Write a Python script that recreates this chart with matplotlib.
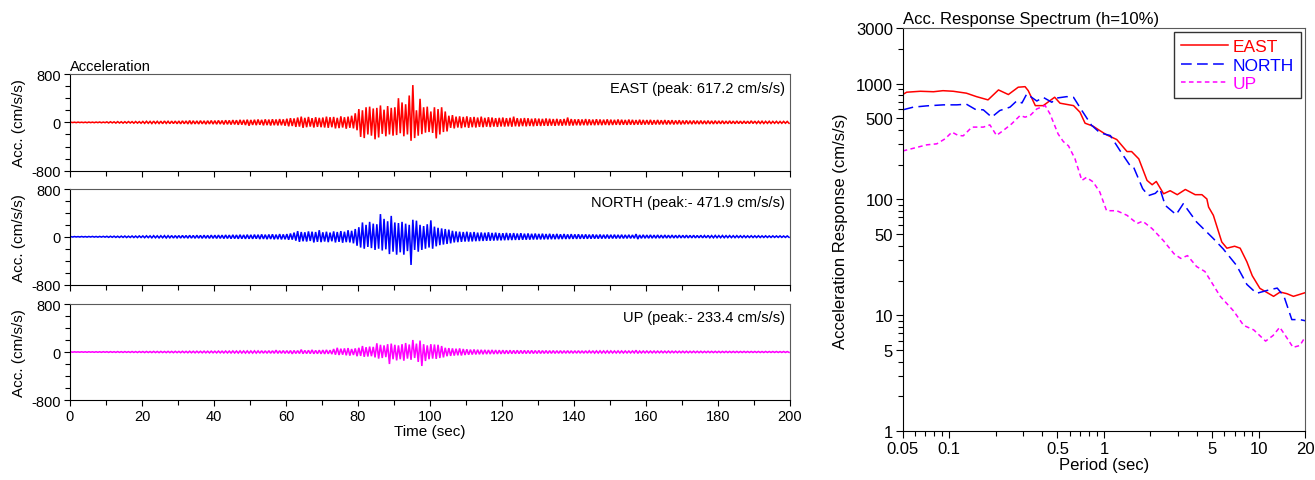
import matplotlib
matplotlib.use("Agg")
import matplotlib.pyplot as plt
from matplotlib.ticker import FixedLocator, MultipleLocator, FixedFormatter, NullFormatter

plt.rcParams["font.family"] = ["Liberation Sans", "DejaVu Sans"]
plt.rcParams["axes.unicode_minus"] = False

# ==============================
# Data: acceleration traces, peak (+) and trough (-) per 1-second window, cm/s/s
# ==============================

EAST_POS = [
    3, 3, 4, 3, 4, 5, 4, 5, 6, 5, 8, 10, 9, 12, 10, 11, 13, 12, 14, 12,
    15, 18, 16, 20, 17, 19, 22, 18, 20, 21, 22, 25, 24, 30, 26, 24, 28, 25, 27, 30,
    28, 32, 30, 35, 33, 38, 36, 42, 40, 45, 40, 44, 48, 42, 50, 46, 52, 48, 55, 50,
    60, 70, 65, 80, 95, 75, 90, 70, 85, 75, 80, 95, 85, 90, 75, 100, 85, 95, 110, 150,
    220, 200, 250, 260, 230, 240, 280, 210, 270, 240, 250, 400, 330, 300, 445, 617, 200, 390, 250, 260,
    180, 250, 220, 250, 180, 110, 120, 95, 100, 90, 100, 85, 90, 80, 95, 75, 85, 80, 70, 75,
    80, 70, 75, 95, 70, 65, 72, 68, 60, 66, 62, 58, 65, 60, 55, 58, 52, 56, 80, 55,
    50, 52, 48, 55, 50, 46, 52, 48, 45, 50, 45, 42, 48, 44, 40, 46, 42, 38, 44, 40,
    38, 42, 36, 40, 35, 38, 34, 36, 32, 35, 30, 32, 28, 30, 27, 29, 26, 28, 25, 27,
    24, 26, 22, 25, 21, 23, 20, 22, 19, 25, 20, 18, 19, 17, 18, 16, 17, 15, 16, 15,
]
EAST_NEG = [
    3, 4, 3, 4, 5, 4, 5, 4, 6, 5, 9, 8, 11, 10, 12, 11, 10, 13, 12, 14,
    16, 15, 19, 17, 18, 21, 17, 20, 19, 22, 24, 22, 26, 28, 25, 27, 24, 30, 26, 28,
    30, 28, 34, 32, 36, 34, 40, 38, 44, 55, 42, 46, 40, 50, 45, 52, 47, 50, 48, 55,
    65, 60, 75, 70, 90, 80, 70, 85, 75, 80, 85, 90, 80, 100, 95, 85, 105, 90, 100, 130,
    240, 260, 200, 220, 280, 250, 190, 230, 200, 220, 210, 180, 230, 200, 305, 260, 220, 195, 170, 160,
    175, 265, 200, 160, 150, 90, 100, 85, 95, 80, 90, 80, 85, 75, 80, 72, 78, 70, 75, 68,
    70, 66, 72, 65, 68, 62, 66, 60, 64, 58, 60, 56, 58, 54, 57, 52, 55, 50, 54, 52,
    48, 50, 46, 49, 45, 47, 44, 46, 42, 45, 43, 40, 42, 39, 41, 38, 40, 37, 39, 36,
    36, 38, 34, 35, 33, 35, 32, 34, 31, 33, 30, 28, 29, 27, 28, 26, 27, 25, 26, 24,
    23, 24, 22, 21, 22, 20, 21, 19, 20, 18, 18, 17, 18, 16, 17, 15, 16, 15, 14, 15,
]

NORTH_POS = [
    3, 4, 3, 5, 4, 5, 6, 5, 6, 7, 8, 9, 10, 9, 11, 12, 10, 13, 12, 14,
    14, 16, 15, 18, 16, 17, 19, 18, 20, 19, 20, 22, 21, 24, 22, 25, 23, 26, 24, 27,
    26, 28, 27, 30, 28, 32, 30, 34, 31, 35, 32, 36, 34, 40, 35, 38, 42, 36, 45, 40,
    45, 55, 70, 95, 80, 75, 90, 85, 80, 110, 75, 85, 70, 90, 80, 95, 85, 110, 100, 130,
    160, 240, 200, 250, 220, 210, 380, 300, 260, 350, 240, 230, 250, 220, 200, 285, 270, 200, 180, 210,
    275, 170, 150, 140, 130, 120, 100, 90, 85, 80, 85, 75, 80, 70, 72, 68, 75, 65, 70, 62,
    60, 65, 58, 62, 55, 60, 52, 56, 50, 54, 48, 52, 46, 50, 44, 48, 42, 46, 40, 44,
    40, 42, 38, 40, 36, 39, 35, 37, 34, 36, 33, 35, 32, 34, 31, 33, 30, 45, 30, 32,
    29, 31, 28, 30, 27, 29, 26, 28, 25, 27, 24, 26, 23, 25, 22, 24, 21, 23, 20, 22,
    20, 21, 19, 20, 18, 19, 17, 18, 16, 17, 16, 17, 15, 16, 14, 15, 14, 15, 13, 14,
]
NORTH_NEG = [
    4, 3, 4, 4, 5, 4, 5, 6, 5, 6, 9, 8, 10, 11, 10, 12, 11, 12, 13, 12,
    15, 14, 17, 16, 18, 16, 19, 17, 20, 18, 21, 20, 23, 22, 24, 23, 25, 24, 26, 25,
    27, 26, 29, 28, 31, 30, 33, 32, 34, 33, 34, 32, 38, 36, 40, 37, 42, 40, 44, 42,
    50, 48, 65, 85, 75, 80, 70, 95, 85, 90, 80, 90, 75, 95, 85, 100, 90, 95, 110, 150,
    180, 200, 170, 190, 220, 200, 230, 210, 290, 250, 300, 260, 300, 240, 472, 220, 250, 220, 200, 180,
    200, 160, 140, 130, 120, 110, 95, 90, 85, 80, 80, 78, 74, 72, 70, 68, 66, 64, 62, 60,
    58, 56, 55, 53, 52, 50, 49, 48, 46, 45, 44, 43, 42, 41, 40, 39, 38, 37, 36, 35,
    35, 34, 33, 33, 32, 31, 31, 30, 29, 29, 28, 28, 27, 27, 26, 26, 25, 38, 25, 24,
    24, 23, 23, 22, 22, 21, 21, 20, 20, 19, 19, 19, 18, 18, 17, 17, 16, 16, 16, 15,
    15, 15, 14, 14, 14, 13, 13, 13, 12, 12, 12, 12, 11, 11, 11, 10, 10, 10, 10, 9,
]

UP_POS = [
    2, 3, 2, 3, 3, 4, 3, 4, 4, 5, 5, 6, 5, 7, 6, 7, 6, 8, 7, 8,
    8, 9, 8, 10, 9, 10, 9, 11, 10, 11, 10, 12, 11, 13, 12, 13, 12, 14, 13, 14,
    13, 15, 14, 16, 15, 17, 16, 18, 17, 18, 17, 19, 18, 20, 19, 21, 20, 30, 21, 23,
    22, 24, 25, 23, 40, 26, 28, 35, 27, 30, 32, 35, 30, 50, 70, 55, 60, 65, 50, 60,
    70, 100, 80, 90, 85, 145, 120, 110, 130, 140, 120, 110, 130, 150, 125, 200, 140, 190, 130, 110,
    130, 125, 120, 100, 70, 65, 60, 55, 60, 50, 45, 40, 42, 38, 36, 35, 33, 34, 32, 30,
    30, 28, 29, 27, 28, 26, 27, 25, 26, 24, 25, 23, 24, 22, 23, 21, 22, 21, 22, 20,
    20, 21, 19, 20, 19, 20, 18, 19, 18, 19, 18, 17, 18, 17, 17, 16, 17, 28, 16, 16,
    16, 15, 16, 15, 15, 14, 15, 14, 14, 13, 13, 13, 12, 13, 12, 12, 11, 12, 11, 11,
    11, 10, 11, 10, 10, 10, 9, 10, 9, 9, 9, 9, 8, 9, 8, 8, 8, 7, 8, 7,
]
UP_NEG = [
    3, 2, 3, 3, 4, 3, 4, 4, 5, 4, 6, 5, 6, 6, 7, 6, 7, 7, 8, 7,
    9, 8, 9, 9, 10, 9, 10, 10, 11, 10, 11, 11, 12, 12, 13, 12, 13, 13, 14, 13,
    14, 14, 15, 15, 16, 16, 17, 17, 18, 18, 18, 18, 19, 19, 20, 20, 21, 22, 21, 22,
    23, 30, 24, 25, 28, 26, 27, 29, 28, 30, 32, 30, 35, 45, 50, 45, 55, 60, 50, 70,
    65, 80, 75, 70, 90, 110, 100, 85, 200, 120, 140, 120, 145, 110, 130, 100, 165, 233, 150, 120,
    110, 115, 100, 90, 70, 65, 60, 55, 58, 50, 45, 42, 40, 38, 37, 35, 34, 33, 32, 31,
    30, 29, 28, 28, 27, 26, 26, 25, 25, 24, 24, 23, 23, 22, 22, 21, 21, 20, 20, 20,
    19, 19, 19, 18, 18, 18, 17, 17, 17, 17, 16, 16, 16, 16, 15, 15, 15, 22, 15, 14,
    14, 14, 14, 13, 13, 13, 13, 12, 12, 12, 12, 12, 11, 11, 11, 11, 10, 10, 10, 10,
    10, 9, 9, 9, 9, 9, 8, 8, 8, 8, 8, 8, 8, 7, 7, 7, 7, 7, 7, 6,
]

TRACE_LABELS = [
    "EAST (peak: 617.2 cm/s/s)",
    "NORTH (peak:- 471.9 cm/s/s)",
    "UP (peak:- 233.4 cm/s/s)",
]

# ==============================
# Data: acceleration response spectra (h=10%)
# ==============================

EAST_T = [0.05, 0.053, 0.065, 0.079, 0.091, 0.106, 0.129, 0.150, 0.178, 0.208,
          0.241, 0.279, 0.309, 0.324, 0.36, 0.405, 0.48, 0.52, 0.636, 0.70,
          0.755, 0.85, 0.94, 1.04, 1.21, 1.41, 1.51, 1.68, 1.90, 2.05,
          2.18, 2.43, 2.68, 2.98, 3.36, 3.89, 4.3, 4.63, 4.75, 5.1,
          5.78, 6.24, 7.0, 7.6, 8.4, 9.1, 10.2, 12.5, 13.78, 15.23,
          16.8, 20.0]
EAST_SA = [804, 842, 858, 850, 868, 858, 826, 771, 723, 881,
           804, 930, 940, 868, 645, 645, 762, 677, 645, 566,
           455, 429, 393, 361, 329, 259, 259, 224, 146, 134,
           143, 112, 119, 110, 122, 110, 110, 101, 86, 73,
           43, 38, 39.5, 38, 29, 22, 17.1, 14.6, 15.9, 15.4,
           14.6, 15.7]

NORTH_T = [0.05, 0.0585, 0.0715, 0.0915, 0.112, 0.129, 0.147, 0.166, 0.188, 0.212,
           0.247, 0.274, 0.295, 0.317, 0.341, 0.368, 0.405, 0.46, 0.495, 0.575,
           0.636, 0.72, 0.83, 0.94, 1.0, 1.10, 1.27, 1.48, 1.55, 1.78,
           1.94, 2.15, 2.30, 2.49, 2.93, 3.26, 3.97, 5.1, 5.9, 7.2,
           8.4, 9.7, 11.9, 13.2, 14.6, 16.4, 18.5, 20.0]
NORTH_SA = [593, 626, 642, 655, 655, 664, 600, 593, 513, 585,
            626, 712, 680, 814, 760, 707, 760, 690, 750, 771,
            760, 585, 438, 377, 368, 356, 264, 195, 192, 124,
            108, 113, 124, 89, 74, 92, 64, 46, 37.5, 27,
            18.5, 15.5, 16.7, 17.2, 14.6, 9.2, 9.2, 9.0]

UP_T = [0.05, 0.0715, 0.083, 0.094, 0.104, 0.114, 0.123, 0.140, 0.166, 0.183,
        0.202, 0.223, 0.253, 0.287, 0.309, 0.333, 0.368, 0.417, 0.448, 0.505,
        0.546, 0.59, 0.65, 0.72, 0.77, 0.85, 0.94, 1.04, 1.21, 1.41,
        1.64, 1.78, 2.05, 2.43, 2.84, 3.14, 3.47, 3.97, 4.5, 5.65,
        6.9, 8.0, 9.3, 11.1, 12.4, 13.7, 14.9, 16.7, 18.5, 19.7]
UP_SA = [262, 296, 302, 334, 381, 357, 354, 421, 421, 440,
         357, 393, 449, 530, 513, 530, 604, 645, 547, 368,
         316, 290, 224, 146, 155, 142, 116, 80, 80, 73,
         62, 65, 56, 44, 34, 31, 32.8, 26.4, 23.9, 14.6,
         10.9, 8.2, 7.5, 6.0, 6.7, 7.9, 6.7, 5.3, 5.5, 6.3]

RED = "#ff0000"
BLUE = "#0000ff"
MAGENTA = "#ff00ff"
EDGE = "#5a5a5a"


def zigzag(pos, neg):
    """Turn per-second peak/trough lists into a trace that swings between them."""
    t, a = [], []
    for i, (p, n) in enumerate(zip(pos, neg)):
        t += [i + 0.25, i + 0.75]
        a += [p, -n]
    return t, a


def style_trace_axes(ax, show_xlabels):
    ax.set_xlim(0, 200)
    ax.set_ylim(-800, 800)
    ax.yaxis.set_major_locator(FixedLocator([-800, 0, 800]))
    ax.yaxis.set_minor_locator(MultipleLocator(200))
    ax.xaxis.set_major_locator(MultipleLocator(20))
    ax.xaxis.set_minor_locator(MultipleLocator(10))
    ax.tick_params(which="both", direction="out", top=False, right=False,
                   labelsize=10.5, width=0.8, pad=2)
    ax.tick_params(which="major", length=4.5)
    ax.tick_params(which="minor", length=3.5)
    if not show_xlabels:
        ax.xaxis.set_major_formatter(NullFormatter())
    for side in ("top", "right"):
        ax.spines[side].set_color(EDGE)
    ax.set_ylabel("Acc. (cm/s/s)", fontsize=11, labelpad=4)


fig = plt.figure(figsize=(13.15, 4.81), dpi=100)

trace_boxes = [
    [0.0532, 0.643, 0.5475, 0.201],
    [0.0532, 0.4064, 0.5475, 0.1985],
    [0.0532, 0.1663, 0.5475, 0.1996],
]
traces = [(EAST_POS, EAST_NEG, RED), (NORTH_POS, NORTH_NEG, BLUE), (UP_POS, UP_NEG, MAGENTA)]

for k, (box, (pos, neg, color), label) in enumerate(zip(trace_boxes, traces, TRACE_LABELS)):
    ax = fig.add_axes(box)
    t, a = zigzag(pos, neg)
    ax.plot(t, a, color=color, lw=1.15, solid_joinstyle="miter")
    style_trace_axes(ax, show_xlabels=(k == 2))
    ax.text(0.993, 0.86, label, transform=ax.transAxes, ha="right", va="center", fontsize=10.5)
    if k == 0:
        ax.text(0.0, 1.01, "Acceleration", transform=ax.transAxes, ha="left", va="bottom",
                fontsize=10.5)
    if k == 2:
        ax.set_xlabel("Time (sec)", fontsize=11, labelpad=1)

# Response spectrum
ax = fig.add_axes([0.6865, 0.1012, 0.306, 0.838])
ax.plot(EAST_T, EAST_SA, color=RED, lw=1.1, label="EAST")
ax.plot(NORTH_T, NORTH_SA, color=BLUE, lw=1.1, dashes=(7, 3.5), label="NORTH")
ax.plot(UP_T, UP_SA, color=MAGENTA, lw=1.1, dashes=(3, 2.2), label="UP")
ax.set_xscale("log")
ax.set_yscale("log")
ax.set_xlim(0.05, 20)
ax.set_ylim(1, 3000)

x_major = [0.05, 0.1, 0.5, 1, 5, 10, 20]
y_major = [1, 5, 10, 50, 100, 500, 1000, 3000]
ax.xaxis.set_major_locator(FixedLocator(x_major))
ax.xaxis.set_major_formatter(FixedFormatter([f"{v:g}" for v in x_major]))
ax.yaxis.set_major_locator(FixedLocator(y_major))
ax.yaxis.set_major_formatter(FixedFormatter([f"{v:g}" for v in y_major]))
x_minor = [m * 10 ** e for e in (-2, -1, 0, 1) for m in range(1, 10)
           if 0.05 < m * 10 ** e < 20 and round(m * 10 ** e, 4) not in x_major]
y_minor = [m * 10 ** e for e in (0, 1, 2, 3) for m in range(1, 10)
           if 1 < m * 10 ** e < 3000 and m * 10 ** e not in y_major]
ax.xaxis.set_minor_locator(FixedLocator(x_minor))
ax.yaxis.set_minor_locator(FixedLocator(y_minor))
ax.xaxis.set_minor_formatter(NullFormatter())
ax.yaxis.set_minor_formatter(NullFormatter())
ax.tick_params(which="both", direction="out", top=False, right=False, labelsize=12,
               width=0.8, pad=2)
ax.tick_params(which="major", length=5)
ax.tick_params(which="minor", length=3.5)
for side in ("top", "right"):
    ax.spines[side].set_color(EDGE)

ax.set_xlabel("Period (sec)", fontsize=12, labelpad=1)
ax.set_ylabel("Acceleration Response (cm/s/s)", fontsize=12, labelpad=6)
ax.text(0.0, 1.005, "Acc. Response Spectrum (h=10%)", transform=ax.transAxes,
        ha="left", va="bottom", fontsize=12)

leg = ax.legend(loc="upper right", fontsize=12.5, frameon=True, fancybox=False,
                edgecolor="#333333", framealpha=1, labelcolor="linecolor",
                handlelength=2.7, handletextpad=0.3, labelspacing=0.2,
                borderpad=0.4, borderaxespad=0.22)
leg.get_frame().set_linewidth(1.0)

fig.savefig("out.png", dpi=100)
